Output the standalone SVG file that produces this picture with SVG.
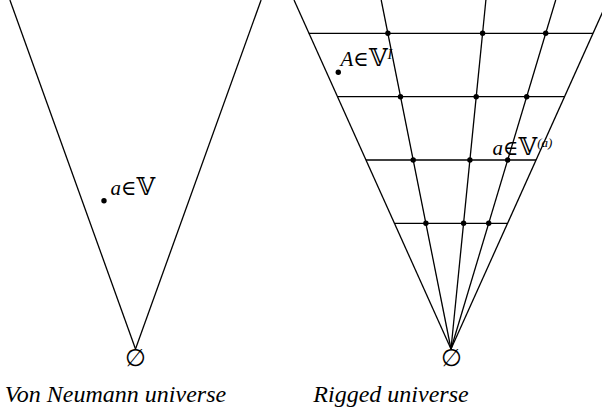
<svg xmlns="http://www.w3.org/2000/svg" width="602" height="412" viewBox="0 0 602 412">
  <style>
    .ln { stroke: #000; stroke-width: 1.3; fill: none; }
    .dot { fill: #000; }
  </style>

  <g id="connectors">
    <line class="ln" x1="9.9" y1="0" x2="135.5" y2="349"/>
    <line class="ln" x1="261.1" y1="0" x2="135.5" y2="349"/>
    <line class="ln" x1="294" y1="0" x2="451" y2="349"/>
    <line class="ln" x1="608" y1="0" x2="451" y2="349"/>
    <line class="ln" x1="381.2" y1="0" x2="451" y2="349"/>
    <line class="ln" x1="485.9" y1="0" x2="451" y2="349"/>
    <line class="ln" x1="555.7" y1="0" x2="451" y2="349"/>
    <line class="ln" x1="308.9" y1="33.3" x2="593.1" y2="33.3"/>
    <line class="ln" x1="337.5" y1="96.7" x2="564.5" y2="96.7"/>
    <line class="ln" x1="366" y1="160" x2="536" y2="160"/>
    <line class="ln" x1="394.4" y1="223.3" x2="507.6" y2="223.3"/>
  </g>

  <g id="grid-dots">
    <circle class="dot" cx="387.9" cy="33.3" r="2.7"/>
    <circle class="dot" cx="400.5" cy="96.7" r="2.7"/>
    <circle class="dot" cx="413.2" cy="160" r="2.7"/>
    <circle class="dot" cx="425.9" cy="223.3" r="2.7"/>
    <circle class="dot" cx="482.6" cy="33.3" r="2.7"/>
    <circle class="dot" cx="476.2" cy="96.7" r="2.7"/>
    <circle class="dot" cx="469.9" cy="160" r="2.7"/>
    <circle class="dot" cx="463.6" cy="223.3" r="2.7"/>
    <circle class="dot" cx="545.7" cy="33.3" r="2.7"/>
    <circle class="dot" cx="526.7" cy="96.7" r="2.7"/>
    <circle class="dot" cx="507.7" cy="160" r="2.7"/>
    <circle class="dot" cx="488.7" cy="223.3" r="2.7"/>
  </g>

  <g id="point-a-vn">
    <circle class="dot" cx="104" cy="200.7" r="2.7"/>
    <text x="110.5" y="195" font-family="Liberation Serif, DejaVu Serif, serif" font-size="21"><tspan font-style="italic">a</tspan>∈<tspan font-size="24">𝕍</tspan></text>
  </g>

  <g id="point-A-rigged">
    <circle class="dot" cx="338.3" cy="72.3" r="2.7"/>
    <text x="340.5" y="66" font-family="Liberation Serif, DejaVu Serif, serif" font-size="21"><tspan font-style="italic">A</tspan>∈<tspan font-size="24">𝕍</tspan><tspan font-size="14" font-style="italic" dy="-7">I</tspan></text>
  </g>

  <g id="point-a-rigged">
    <text x="492.5" y="155" font-family="Liberation Serif, DejaVu Serif, serif" font-size="21"><tspan font-style="italic">a</tspan>∈<tspan font-size="24">𝕍</tspan><tspan font-size="13" font-style="italic" dy="-8">(a)</tspan></text>
  </g>

  <g id="empty-vn">
    <text x="135.5" y="366" font-family="DejaVu Serif, serif" font-size="24" text-anchor="middle">∅</text>
  </g>
  <g id="empty-rigged">
    <text x="451" y="366" font-family="DejaVu Serif, serif" font-size="24" text-anchor="middle">∅</text>
  </g>

  <g id="caption-vn">
    <text x="115.5" y="402" font-family="Liberation Serif, serif" font-size="24" font-style="italic" text-anchor="middle">Von Neumann universe</text>
  </g>
  <g id="caption-rigged">
    <text x="391" y="402" font-family="Liberation Serif, serif" font-size="24" font-style="italic" text-anchor="middle">Rigged universe</text>
  </g>
</svg>
